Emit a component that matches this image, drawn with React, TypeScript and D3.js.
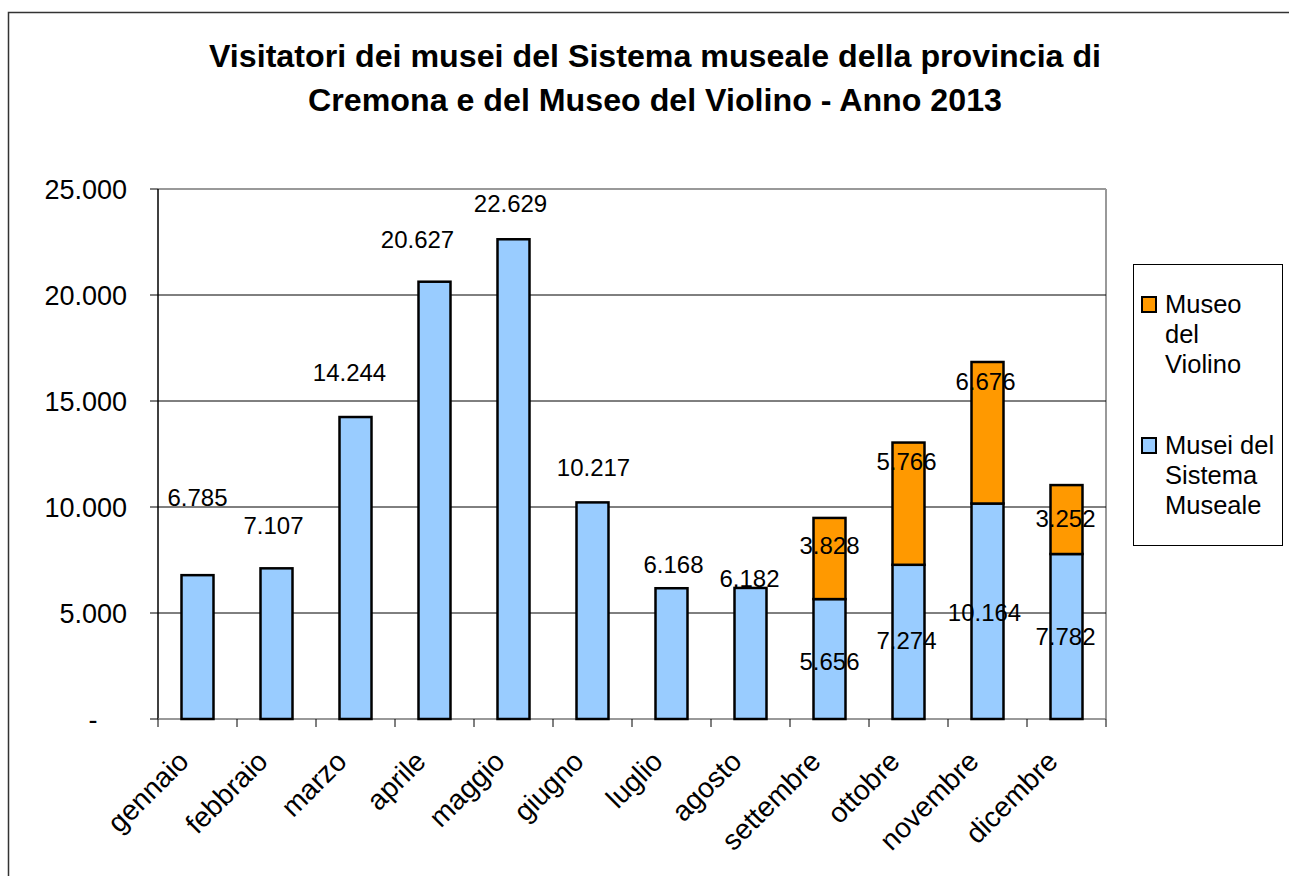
import React from "react";
import * as d3 from "d3";

const months = ["gennaio","febbraio","marzo","aprile","maggio","giugno","luglio","agosto","settembre","ottobre","novembre","dicembre"];
const sistema = [6785,7107,14244,20627,22629,10217,6168,6182,5656,7274,10164,7782];
const violino = [0,0,0,0,0,0,0,0,3828,5766,6676,3252];
const yTicks = [0,5000,10000,15000,20000,25000];
const seriesNames = ["Museo del Violino","Musei del Sistema Museale"];
// manual label nudges (px) as placed in the original
const sistemaNudge: [number, number][] = [[0,-78],[-3,-43],[-6,-45],[-17,-42],[-3,-36],[1,-35],[2,-24],[-1,-9],[0,2],[-2,-1],[-3,1],[-1,0]];
const violinoNudge: [number, number][] = [[0,0],[0,0],[0,0],[0,0],[0,0],[0,0],[0,0],[0,0],[0,-13],[-2,-42],[-2,-51],[-1,-1]];

const fmt = (v: number) => v === 0 ? "-" : d3.format(",")(v).replace(/,/g, ".");

export default function App() {
  const W = 1289, H = 876;
  const left = 158, right = 1106, top = 189, bottom = 719;
  const x = d3.scaleBand<string>().domain(months).range([left, right]).paddingInner(0.595).paddingOuter(0.2975);
  const band = (right - left) / months.length;
  const y = d3.scaleLinear().domain([0, 25000]).range([bottom, top]);
  const font = "'Liberation Sans', Arial, sans-serif";
  const bw = x.bandwidth();
  const lf = 24;
  return (
    <svg width={W} height={H} style={{ position: "absolute", left: 0, top: 0, fontFamily: font }}>
      <rect x={0} y={0} width={W} height={H} fill="#fff" />
      <rect x={8.5} y={12.5} width={W + 10} height={H + 10} fill="none" stroke="#333" strokeWidth={1.5} />
      <text x={655} y={67} textAnchor="middle" fontSize={32.2} fontWeight="bold">Visitatori dei musei del Sistema museale della provincia di</text>
      <text x={655} y={111} textAnchor="middle" fontSize={32.2} fontWeight="bold">Cremona e del Museo del Violino - Anno 2013</text>
      {/* plot border */}
      <line x1={left} x2={right} y1={top} y2={top} stroke="#999" strokeWidth={2} />
      <line x1={right} x2={right} y1={top} y2={bottom} stroke="#999" strokeWidth={2} />
      {yTicks.filter(t => t > 0 && t < 25000).map(t => (
        <line key={t} x1={left} x2={right} y1={y(t)} y2={y(t)} stroke="#000" strokeWidth={1} />
      ))}
      {/* y axis */}
      <line x1={left} x2={left} y1={top} y2={bottom} stroke="#000" strokeWidth={1.5} />
      {yTicks.map(t => (
        <g key={t}>
          <line x1={left - 8} x2={left} y1={y(t)} y2={y(t)} stroke="#000" strokeWidth={1} />
          <text x={t === 0 ? 93 : 127} y={y(t) + 9.5} textAnchor={t === 0 ? "middle" : "end"} fontSize={27}>{fmt(t)}</text>
        </g>
      ))}
      {/* x axis */}
      <line x1={left} x2={right} y1={bottom} y2={bottom} stroke="#777" strokeWidth={1.5} />
      {d3.range(months.length + 1).map(i => (
        <line key={i} x1={left + i * band} x2={left + i * band} y1={bottom} y2={bottom + 8} stroke="#000" strokeWidth={1} />
      ))}
      {months.map((m, i) => {
        const cx = (x(m) as number) + bw / 2;
        return (
          <g key={m}>
            <rect x={x(m)} y={y(sistema[i])} width={bw} height={y(0) - y(sistema[i])} fill="#99CCFF" stroke="#000" strokeWidth={2.5} />
            {violino[i] > 0 && (
              <rect x={x(m)} y={y(sistema[i] + violino[i])} width={bw} height={y(sistema[i]) - y(sistema[i] + violino[i])} fill="#FF9900" stroke="#000" strokeWidth={2.5} />
            )}
            <text transform={`translate(${cx - 7},${bottom + 44}) rotate(-45)`} textAnchor="end" fontSize={28.3}>{m}</text>
          </g>
        );
      })}
      {/* data labels */}
      {months.map((m, i) => {
        const cx = (x(m) as number) + bw / 2;
        const stacked = violino[i] > 0;
        const sy = stacked ? (y(0) + y(sistema[i])) / 2 : y(sistema[i]);
        const [dx, dy] = sistemaNudge[i];
        return (
          <g key={"l" + m}>
            <text x={cx + dx} y={sy + dy + 8.5} textAnchor="middle" fontSize={lf}>{fmt(sistema[i])}</text>
            {stacked && (
              <text x={cx + violinoNudge[i][0]} y={(y(sistema[i]) + y(sistema[i] + violino[i])) / 2 + violinoNudge[i][1] + 8.5} textAnchor="middle" fontSize={lf}>{fmt(violino[i])}</text>
            )}
          </g>
        );
      })}
      {/* legend */}
      <rect x={1133.5} y={264.5} width={149} height={281} fill="#fff" stroke="#000" strokeWidth={1} />
      <rect x={1142} y={297} width={14} height={15} fill="#FF9900" stroke="#000" strokeWidth={2} />
      {["Museo", "del", "Violino"].map((t, k) => (
        <text key={t} x={1165} y={313 + k * 30} fontSize={25.5}>{t}</text>
      ))}
      <rect x={1142} y={438} width={14} height={15} fill="#99CCFF" stroke="#000" strokeWidth={2} />
      {["Musei del", "Sistema", "Museale"].map((t, k) => (
        <text key={t} x={1165} y={454 + k * 30} fontSize={25.5}>{t}</text>
      ))}
      <title>{seriesNames.join(", ")}</title>
    </svg>
  );
}
